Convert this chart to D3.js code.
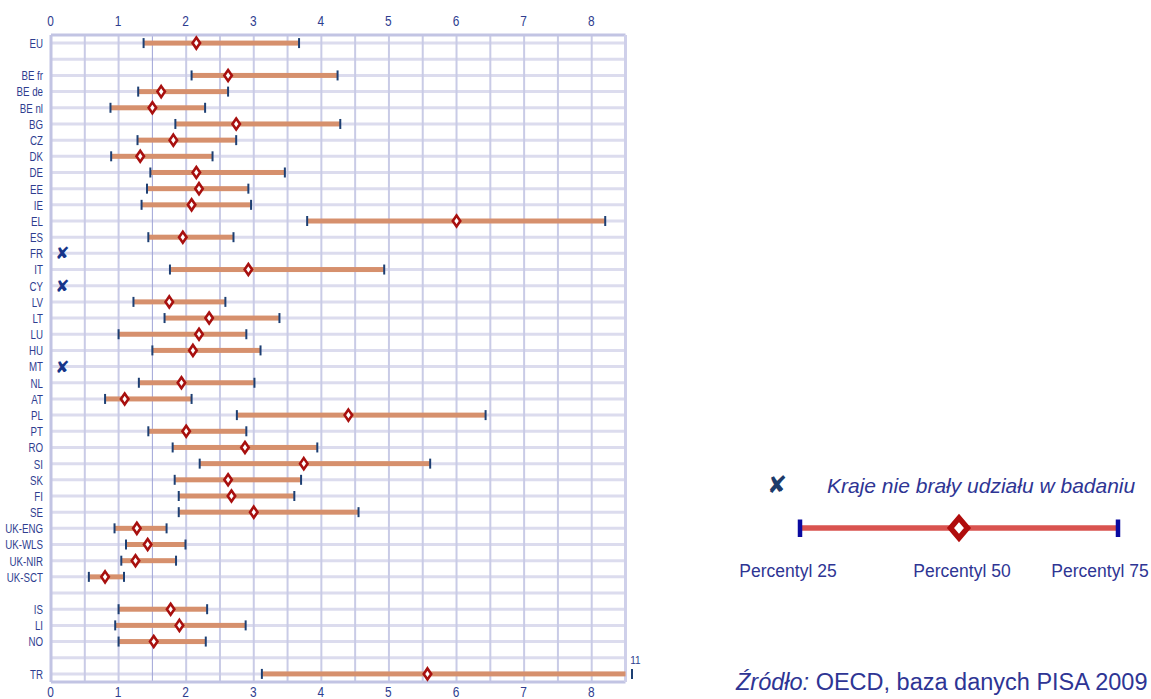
<!DOCTYPE html>
<html><head><meta charset="utf-8">
<script src="https://cdn.jsdelivr.net/npm/d3@7"></script>
<style>
body{margin:0;background:#fff;}
svg{display:block;}
</style></head><body>
<svg id="chart" width="1151" height="699"></svg>
<script>
const categories = ["EU","","BE fr","BE de","BE nl","BG","CZ","DK","DE","EE","IE","EL","ES","FR","IT","CY","LV","LT","LU","HU","MT","NL","AT","PL","PT","RO","SI","SK","FI","SE","UK-ENG","UK-WLS","UK-NIR","UK-SCT","","IS","LI","NO","","TR"];
const p25 = [1.37,null,2.08,1.29,0.88,1.84,1.28,0.89,1.47,1.42,1.34,3.79,1.44,null,1.76,null,1.22,1.68,1.00,1.50,null,1.30,0.80,2.75,1.44,1.80,2.20,1.83,1.89,1.89,0.94,1.11,1.04,0.56,null,1.00,0.95,1.00,null,3.12];
const p50 = [2.15,null,2.62,1.63,1.50,2.74,1.81,1.32,2.15,2.19,2.08,6.00,1.95,null,2.92,null,1.75,2.34,2.19,2.10,null,1.93,1.09,4.40,2.00,2.87,3.74,2.62,2.67,3.00,1.27,1.43,1.25,0.80,null,1.77,1.90,1.52,null,5.57];
const p75 = [3.67,null,4.24,2.62,2.28,4.28,2.74,2.39,3.46,2.92,2.96,8.20,2.70,null,4.93,null,2.58,3.38,2.89,3.10,null,3.01,2.08,6.43,2.89,3.94,5.61,3.70,3.60,4.55,1.71,1.99,1.85,1.08,null,2.31,2.88,2.29,null,11];
const notParticipating = ["FR","CY","MT"];
const xTicks = [0,1,2,3,4,5,6,7,8];
const xGrid = [0,0.5,1,1.5,2,2.5,3,3.5,4,4.5,5,5.5,6,6.5,7,7.5,8,8.5];
const legendLabels = ["Percentyl 25","Percentyl 50","Percentyl 75"];
const legendNote = "Kraje nie brały udziału w badaniu";
const sourceLabel = "Źródło:";
const sourceText = " OECD, baza danych PISA 2009";
const xMax = 8.5;

const svg = d3.select("#chart");
const labelFont = "'Liberation Sans',Arial,sans-serif";
const textColor = "#2e3d8f";

const x = d3.scaleLinear().domain([0, xMax]).range([51, 625.5]);
const rowKeys = categories.map((c,i)=>i);
const y = d3.scaleBand().domain(rowKeys).range([35, 682]).padding(0);
const yc = i => y(i) + y.bandwidth()/2;

const rows = categories.map((c,i)=>({c,i,p25:p25[i],p50:p50[i],p75:p75[i]}));

// horizontal gridlines at row centres
svg.append("g").selectAll("line").data(rows).join("line")
  .attr("x1", x(0)).attr("x2", x(xMax))
  .attr("y1", d=>yc(d.i)).attr("y2", d=>yc(d.i))
  .attr("stroke", "#dcdcee").attr("stroke-width", 3);

// vertical gridlines
svg.append("g").selectAll("line").data(xGrid).join("line")
  .attr("x1", d=>x(d)).attr("x2", d=>x(d))
  .attr("y1", 35).attr("y2", 682)
  .attr("stroke", d=> d===1.5 ? "#9fa3d6" : "#c9cbe6")
  .attr("stroke-width", d=> d===1.5 ? 1 : 2);

// frame
svg.append("line").attr("x1", x(0)).attr("x2", x(xMax)).attr("y1",35).attr("y2",35).attr("stroke","#c2c4e3").attr("stroke-width",3);
svg.append("line").attr("x1", x(0)).attr("x2", x(xMax)).attr("y1",682).attr("y2",682).attr("stroke","#c2c4e3").attr("stroke-width",3);
svg.append("line").attr("x1", x(0)).attr("x2", x(0)).attr("y1",35).attr("y2",682).attr("stroke","#c2c4e3").attr("stroke-width",3);
svg.append("line").attr("x1", x(xMax)).attr("x2", x(xMax)).attr("y1",35).attr("y2",682).attr("stroke","#cfd0ea").attr("stroke-width",3);

// axes (top and bottom)
function styleAxis(g){
  g.select(".domain").remove();
  g.selectAll("text").attr("font-family", labelFont).attr("font-size", 14).attr("fill", textColor)
   .attr("transform","scale(0.85,1)").attr("x", -1.2);
}
const axTop = d3.axisTop(x).tickValues(xTicks).tickSize(0).tickPadding(0).tickFormat(d3.format("d"));
svg.append("g").attr("transform","translate(0,26)").call(axTop).call(styleAxis);
const axBot = d3.axisBottom(x).tickValues(xTicks).tickSize(0).tickPadding(0).tickFormat(d3.format("d"));
svg.append("g").attr("transform","translate(0,687)").call(axBot).call(styleAxis);

// row labels (condensed)
svg.append("g").selectAll("text").data(rows.filter(d=>d.c!=="")).join("text")
  .attr("transform", d=>`translate(43,${yc(d.i)}) scale(0.72,1)`)
  .attr("dy","0.36em")
  .attr("text-anchor","end").attr("font-family", labelFont).attr("font-size", 13.5)
  .attr("fill", textColor).text(d=>d.c);

const valid = rows.filter(d=>d.p25!=null);
const xc = v => Math.min(x(v), x(xMax));

// bars
svg.append("g").selectAll("rect").data(valid).join("rect")
  .attr("x", d=>x(d.p25)).attr("y", d=>yc(d.i)-2.5)
  .attr("width", d=>xc(d.p75)-x(d.p25)).attr("height", 5)
  .attr("fill", "#d6906d");

// whiskers
const ticksG = svg.append("g");
ticksG.selectAll("line.l").data(valid).join("line").attr("class","l")
  .attr("x1", d=>x(d.p25)).attr("x2", d=>x(d.p25))
  .attr("y1", d=>yc(d.i)-5).attr("y2", d=>yc(d.i)+5)
  .attr("stroke","#1d3f73").attr("stroke-width",2);
ticksG.selectAll("line.r").data(valid).join("line").attr("class","r")
  .attr("x1", d=> d.p75>xMax ? x(xMax)+6.5 : x(d.p75)).attr("x2", d=> d.p75>xMax ? x(xMax)+6.5 : x(d.p75))
  .attr("y1", d=>yc(d.i)-5).attr("y2", d=>yc(d.i)+5)
  .attr("stroke","#1d3f73").attr("stroke-width",2);

// off-scale value label
svg.append("g").selectAll("text").data(valid.filter(d=>d.p75>xMax)).join("text")
  .attr("x", x(xMax)+10).attr("y", d=>yc(d.i)-10)
  .attr("text-anchor","middle").attr("font-family", labelFont).attr("font-size", 10)
  .attr("fill", textColor).text(d=>d.p75);

// diamonds
const diamond = (w,h) => `M0,${-h/2}L${w/2},0L0,${h/2}L${-w/2},0Z`;
svg.append("g").selectAll("path").data(valid).join("path")
  .attr("transform", d=>`translate(${x(d.p50)},${yc(d.i)})`)
  .attr("d", diamond(7.5,11))
  .attr("fill","#fff").attr("stroke","#a8100f").attr("stroke-width",2.6).attr("stroke-linejoin","miter");

// not participating marks
svg.append("g").selectAll("text").data(rows.filter(d=>notParticipating.includes(d.c))).join("text")
  .attr("x", x(0.17)).attr("y", d=>yc(d.i)).attr("dy","0.36em")
  .attr("text-anchor","middle").attr("font-family","'DejaVu Sans',sans-serif").attr("font-size",17)
  .attr("fill","#16348a").text("✘");

// legend
const lg = svg.append("g");
lg.append("text").attr("x",777).attr("y",484).attr("dy","0.36em").attr("text-anchor","middle")
  .attr("font-family","'DejaVu Sans',sans-serif").attr("font-size",24)
  .attr("fill","#1d3a6a").text("✘");
lg.append("text").attr("x",827).attr("y",486).attr("dy","0.35em")
  .attr("font-family","'Liberation Sans',Arial,sans-serif").attr("font-size",21).attr("font-style","italic")
  .attr("fill","#2e3594").text(legendNote);
const legX = d3.scaleLinear().domain([25,75]).range([800,1118]);
lg.append("line").attr("x1",legX(25)).attr("x2",legX(75)).attr("y1",528).attr("y2",528)
  .attr("stroke","#d9534f").attr("stroke-width",5.5);
[25,75].forEach(v=>{
  lg.append("line").attr("x1",legX(v)).attr("x2",legX(v)).attr("y1",519.5).attr("y2",537)
    .attr("stroke","#0a0aa0").attr("stroke-width",4.5);
});
lg.append("path").attr("transform",`translate(${legX(50)},528)`).attr("d",diamond(17,20))
  .attr("fill","#fff").attr("stroke","#b00c0c").attr("stroke-width",5.5);
lg.selectAll("text.pl").data(legendLabels).join("text").attr("class","pl")
  .attr("x",(d,i)=>[788,962,1100][i]).attr("y",571).attr("dy","0.35em").attr("text-anchor","middle")
  .attr("font-family","'Liberation Sans',Arial,sans-serif").attr("font-size",17.5)
  .attr("fill","#2e3594").text(d=>d);

const src = svg.append("text").attr("x",736).attr("y",682).attr("dy","0.35em")
  .attr("font-family","'Liberation Sans',Arial,sans-serif").attr("font-size",23.5).attr("fill","#2e3594");
src.append("tspan").attr("font-style","italic").text(sourceLabel);
src.append("tspan").text(sourceText);
</script>
</body></html>
